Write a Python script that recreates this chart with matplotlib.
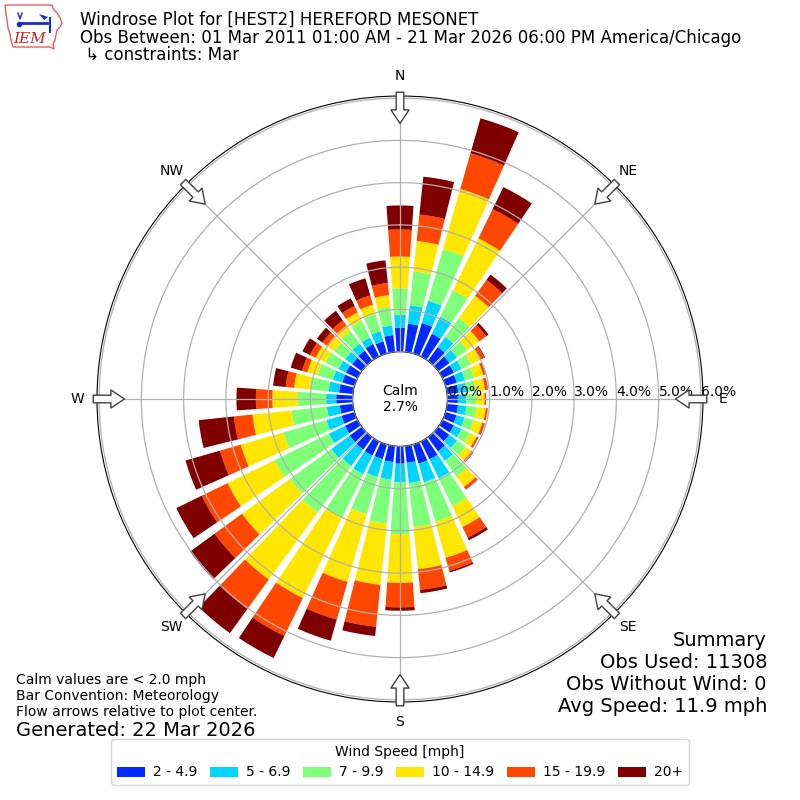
import numpy as np
import matplotlib
matplotlib.use("Agg")
import matplotlib.pyplot as plt
from matplotlib.patches import Patch, Polygon

# ---------------- data ----------------
directions = list(range(0, 360, 10))  # bin centres, degrees from north
speed_labels = ["2 - 4.9", "5 - 6.9", "7 - 9.9", "10 - 14.9", "15 - 19.9", "20+"]

spd_2_5 = [.57, .67, .75, .60, .40, .33, .30, .28, .27, .25, .26, .27, .30, .32, .41, .47, .47, .40,
           .41, .38, .36, .37, .36, .35, .33, .32, .31, .39, .33, .30, .30, .28, .30, .33, .30, .40]
spd_5_7 = [.30, .44, .55, .45, .30, .22, .20, .20, .20, .20, .20, .20, .20, .23, .28, .50, .46, .48,
           .44, .42, .44, .49, .48, .54, .42, .37, .31, .24, .25, .23, .20, .20, .20, .17, .25, .23]
spd_7_10 = [.63, .81, 1.27, .69, .55, .30, .25, .22, .21, .24, .24, .23, .22, .25, .46, .73, .97, 1.05,
            1.23, 1.05, .92, 1.14, 1.36, 1.21, 1.43, 1.06, .84, .67, .45, .38, .35, .32, .37, .44, .42, .44]
spd_10_15 = [.75, .72, 1.48, 1.37, .65, .35, .25, .23, .22, .19, .22, .21, .18, .17, .30, .55, .89, 1.00,
             1.15, 1.45, 1.66, 2.12, 1.96, 1.40, 1.24, 1.05, .93, .60, .37, .25, .25, .22, .16, .22, .23, .28]
spd_15_20 = [.64, .63, .88, .77, .46, .20, .10, .06, .06, .04, .05, .05, .04, .05, .07, .28, .32, .49,
             .58, 1.00, .93, 1.00, .86, .80, .68, .51, .44, .39, .20, .13, .15, .13, .15, .17, .23, .29]
spd_20p = [.57, .90, .86, .58, .16, .07, .02, .01, .01, .00, .00, .01, .01, .01, .01, .07, .04, .08,
           .08, .22, .52, .58, .71, .72, .67, .85, .84, .46, .30, .28, .20, .16, .28, .20, .42, .54]
series = [spd_2_5, spd_5_7, spd_7_10, spd_10_15, spd_15_20, spd_20p]

radial_ticks = [0, 1, 2, 3, 4, 5, 6]
radial_labels = ["0.0%", "1.0%", "2.0%", "3.0%", "4.0%", "5.0%", "6.0%"]
compass = ["N", "NE", "E", "SE", "S", "SW", "W", "NW"]
calm_pct = "2.7%"

title_lines = ["Windrose Plot for [HEST2] HEREFORD MESONET",
               "Obs Between: 01 Mar 2011 01:00 AM - 21 Mar 2026 06:00 PM America/Chicago",
               " \u21b3 constraints: Mar"]
summary_lines = ["Summary", "Obs Used: 11308", "Obs Without Wind: 0", "Avg Speed: 11.9 mph"]
notes = "Calm values are < 2.0 mph\nBar Convention: Meteorology\nFlow arrows relative to plot center."
generated = "Generated: 22 Mar 2026"

# ---------------- figure ----------------
fig = plt.figure(figsize=(8, 8), dpi=100)
ax = fig.add_axes([0.12125, 0.1225, 0.7575, 0.7575], projection="polar")
ax.set_theta_zero_location("N")
ax.set_theta_direction(-1)
ax.set_ylim(0, 6.05)
ax.set_rorigin(-1.12)

colors = plt.cm.jet(np.linspace(0, 1, 7)[1:])
theta = np.radians(directions)
width = np.radians(10) * 0.8
bottom = np.zeros(len(directions))
for vals, col in zip(series, colors):
    vals = np.array(vals)
    ax.bar(theta, vals, width=width, bottom=bottom, color=col, edgecolor="none",
           linewidth=0, zorder=1)
    bottom = bottom + vals

ax.set_axisbelow(False)
ax.set_xticks(np.radians(np.arange(0, 360, 45)))
ax.set_xticklabels([])
ax.set_yticks(radial_ticks)
ax.set_yticklabels([])
ax.grid(True, color="#b0b0b0", lw=0.9, zorder=2.5)
for r, lab in zip(radial_ticks, radial_labels):
    ax.text(np.pi / 2, r, lab, ha="left", va="bottom", fontsize=10, zorder=5)

ax.text(0, -1.12, "Calm\n" + calm_pct, ha="center", va="center", fontsize=10,
        transform=ax.transData)

# compass labels and flow arrows
for i, lab in enumerate(compass):
    ang = np.radians(i * 45)
    ax.text(ang, 6.52, lab, ha="center", va="center", fontsize=10, clip_on=False)
    ax.annotate("", xy=(ang, 5.40), xytext=(ang, 6.14), xycoords="data",
                arrowprops=dict(arrowstyle="simple,head_length=0.75,head_width=1.0,tail_width=0.42",
                                fc="white", ec="#404040", lw=1.0, mutation_scale=13,
                                shrinkA=0, shrinkB=0),
                annotation_clip=False, zorder=6)

# ---------------- texts ----------------
ypix = [20, 38, 55]
for line, yp in zip(title_lines, ypix):
    fig.text(80 / 800, 1 - yp / 800, line, fontsize=12, ha="left", va="center")

sy = [640, 662, 685, 706]
for line, yp in zip(summary_lines, sy):
    fig.text(767 / 800, 1 - yp / 800, line, fontsize=14, ha="right", va="center")

fig.text(16 / 800, 1 - 673 / 800, notes, fontsize=10, ha="left", va="top", linespacing=1.2)
fig.text(16 / 800, 1 - 730 / 800, generated, fontsize=14, ha="left", va="center")

handles = [Patch(facecolor=c, edgecolor="none") for c in colors]
fig.legend(handles, speed_labels, loc="lower center", bbox_to_anchor=(0.5, 0.010), ncol=6,
           title="Wind Speed [mph]", fontsize=10, title_fontsize=10, frameon=True,
           columnspacing=0.9, handletextpad=0.6, handlelength=2.0)

# ---------------- logo ----------------
lax = fig.add_axes([0.0, 0.935, 0.085, 0.065])
lax.set_xlim(0, 68)
lax.set_ylim(52, 0)
lax.axis("off")
iowa = [(5, 5), (52, 5), (54, 10), (58, 14), (60, 18), (62, 23), (60, 27), (57, 30), (56, 35),
        (55, 40), (53, 44), (54, 49), (50, 47), (13, 47), (11, 40), (10, 34), (8, 28), (7, 20),
        (6, 14)]
lax.add_patch(Polygon(iowa, closed=True, fill=False, ec="#e06060", lw=1.0))
lax.plot([20, 47], [23, 23], color="#1a2bd0", lw=2)
lax.plot([18, 20, 22], [13, 19, 13], color="#1a2bd0", lw=1)
lax.plot([19], [24], marker="o", ms=3, color="#1a2bd0")
lax.add_patch(Polygon([(39, 14), (48, 17), (44, 20)], closed=True, fc="#1a2bd0", ec="none"))
lax.plot([50, 50], [18, 32], color="#1a2bd0", lw=1.5)
lax.text(30, 39, "IEM", fontsize=11, family="DejaVu Serif", style="italic",
         color="#cc2222", ha="center", va="center")

fig.savefig("out.png", dpi=100)
